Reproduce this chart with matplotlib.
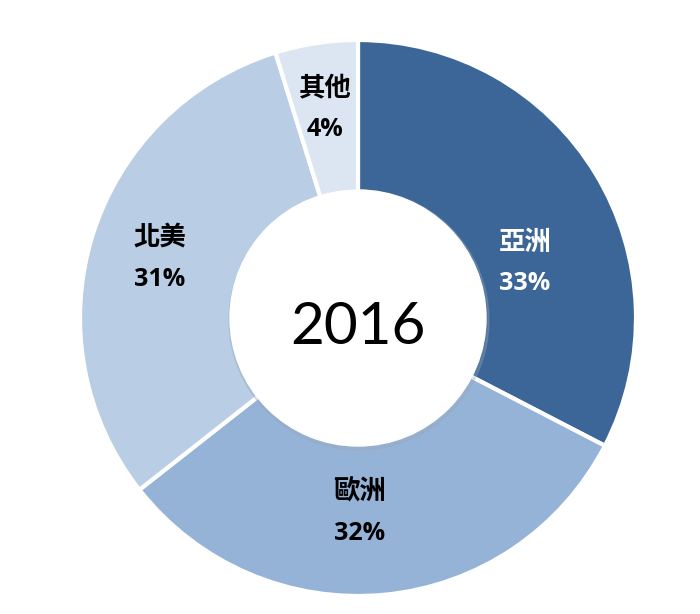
import matplotlib.pyplot as plt
from matplotlib.patches import Circle

plt.rcParams['font.family'] = ['Noto Sans CJK TC', 'DejaVu Sans']

regions = ['亞洲', '歐洲', '北美', '其他']
shares = [32.6, 31.8, 30.8, 4.8]
pct_labels = ['33%', '32%', '31%', '4%']
colors = ['#3C6698', '#95B3D7', '#B9CDE5', '#DCE6F2']
text_colors = ['white', 'black', 'black', 'black']
label_pos = [(525, 262), (360, 512), (160, 257), (325, 108)]

fig = plt.figure(figsize=(7, 6.14), dpi=100)
ax = fig.add_axes([0, 0, 1, 1])

cx, cy, r_out, r_in = 358, 318, 278, 128

# y axis is inverted below, so counterclock=True draws clockwise on screen
ax.pie(shares, colors=colors, startangle=-90, counterclock=True,
       center=(cx, cy), radius=r_out, frame=True,
       wedgeprops=dict(edgecolor='white', linewidth=3))
ax.set_xlim(0, 700)
ax.set_ylim(614, 0)
ax.set_aspect('equal')
ax.axis('off')

# inner hole with a faint shadow
ax.add_patch(Circle((cx + 1, cy + 2), r_in + 2, color='#9aa6b8', alpha=0.3, zorder=3))
ax.add_patch(Circle((cx, cy), r_in, color='white', zorder=4))
ax.text(cx, cy + 10, '2016', ha='center', va='center', fontsize=42,
        family='Lato', color='black', zorder=5)

for name, pct, (x, y), tc in zip(regions, pct_labels, label_pos, text_colors):
    ax.text(x, y - 20, name, ha='center', va='center', fontsize=19,
            fontweight='bold', color=tc, zorder=5)
    ax.text(x, y + 22, pct, ha='center', va='center', fontsize=18,
            fontweight='bold', family='Open Sans', color=tc, zorder=5)

fig.savefig('out.png', dpi=100)
